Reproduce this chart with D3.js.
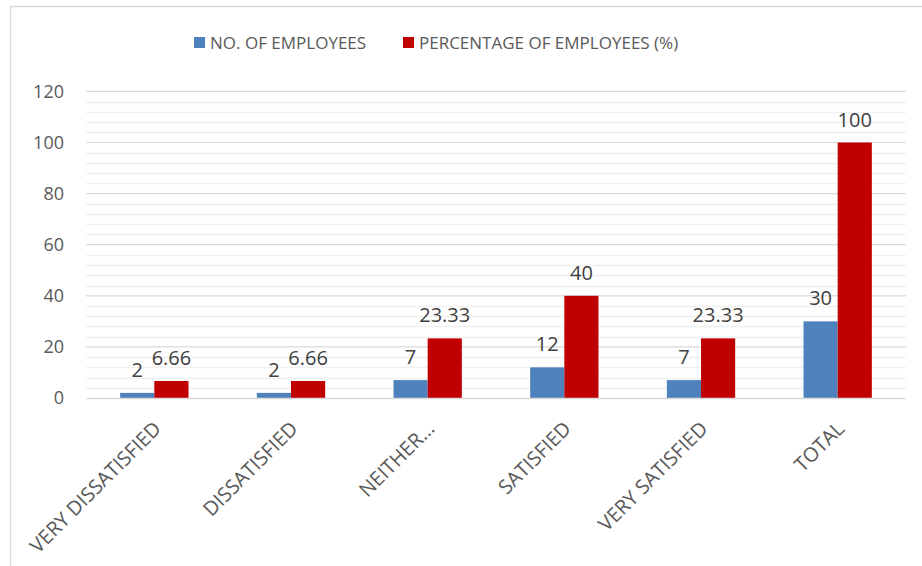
<!DOCTYPE html>
<html>
<head>
<meta charset="utf-8">
<script src="https://cdn.jsdelivr.net/npm/d3@7"></script>
<style>
  body { margin: 0; background: #fff; }
  svg { display: block; font-family: "Open Sans", "Noto Sans", sans-serif; }
</style>
</head>
<body>
<div id="chart"></div>
<script>
const categories = ["VERY DISSATISFIED", "DISSATISFIED", "NEITHER…", "SATISFIED", "VERY SATISFIED", "TOTAL"];
const employees = [2, 2, 7, 12, 7, 30];
const percentage = [6.66, 6.66, 23.33, 40, 23.33, 100];
const seriesNames = ["NO. OF EMPLOYEES", "PERCENTAGE OF EMPLOYEES (%)"];
const seriesColors = ["#4f81bd", "#c00000"];
const yTicks = [0, 20, 40, 60, 80, 100, 120];

const width = 922, height = 566;
const plot = { left: 86, right: 906, top: 91.4, bottom: 398 };

const svg = d3.select("#chart").append("svg")
  .attr("width", width).attr("height", height);

// chart frame (only top and left edges are visible in the crop)
svg.append("rect")
  .attr("x", 10.5).attr("y", 6.5)
  .attr("width", 940).attr("height", 600)
  .attr("fill", "none").attr("stroke", "#d9d9d9").attr("stroke-width", 1.5);

const x0 = d3.scaleBand().domain(categories).range([plot.left, plot.right]);
const x1 = d3.scaleBand().domain([0, 1]).range([x0.bandwidth() * 0.25, x0.bandwidth() * 0.75]);
const y = d3.scaleLinear().domain([0, 120]).range([plot.bottom, plot.top]);

// minor gridlines
const minor = d3.range(4, 120, 4).filter(v => v % 20 !== 0);
svg.append("g").selectAll("line").data(minor).join("line")
  .attr("x1", plot.left).attr("x2", plot.right)
  .attr("y1", d => Math.round(y(d)) + 0.5).attr("y2", d => Math.round(y(d)) + 0.5)
  .attr("stroke", "#f0f0f0").attr("stroke-width", 1.5);

// major gridlines
svg.append("g").selectAll("line").data(yTicks.filter(v => v > 0)).join("line")
  .attr("x1", plot.left).attr("x2", plot.right)
  .attr("y1", d => y(d)).attr("y2", d => y(d))
  .attr("stroke", "#d9d9d9").attr("stroke-width", 1.2);

// y tick labels
svg.append("g").selectAll("text").data(yTicks).join("text")
  .attr("x", 64).attr("y", d => y(d))
  .attr("dy", "0.36em")
  .attr("text-anchor", "end")
  .attr("fill", "#595959")
  .attr("font-size", 18)
  .text(d => d);

// bars
const rows = categories.map((c, i) => ({ c, vals: [employees[i], percentage[i]] }));
const groups = svg.append("g").selectAll("g").data(rows).join("g")
  .attr("transform", d => `translate(${x0(d.c)},0)`);

groups.selectAll("rect").data(d => d.vals.map((v, k) => ({ v, k }))).join("rect")
  .attr("x", d => x1(d.k))
  .attr("y", d => y(d.v))
  .attr("width", x1.bandwidth())
  .attr("height", d => y(0) - y(d.v))
  .attr("fill", d => seriesColors[d.k]);

groups.selectAll("text").data(d => d.vals.map((v, k) => ({ v, k }))).join("text")
  .attr("x", d => x1(d.k) + x1.bandwidth() / 2)
  .attr("y", d => y(d.v) - 16)
  .attr("text-anchor", "middle")
  .attr("fill", "#404040")
  .attr("font-size", 20)
  .text(d => d.v);

// x axis line
svg.append("line")
  .attr("x1", plot.left).attr("x2", plot.right)
  .attr("y1", plot.bottom + 0.5).attr("y2", plot.bottom + 0.5)
  .attr("stroke", "#d9d9d9").attr("stroke-width", 1.5);

// category labels
svg.append("g").selectAll("text").data(categories).join("text")
  .attr("transform", d => `translate(${x0(d) + x0.bandwidth() / 2 + 8},${plot.bottom + 32}) rotate(-45)`)
  .attr("text-anchor", "end")
  .attr("fill", "#595959")
  .attr("font-size", 20)
  .text(d => d);

// legend
const legendX = [194, 403];
const legend = svg.append("g").selectAll("g").data(seriesNames).join("g")
  .attr("transform", (d, i) => `translate(${legendX[i]},37)`);
legend.append("rect").attr("width", 11).attr("height", 11)
  .attr("fill", (d, i) => seriesColors[i]);
legend.append("text")
  .attr("x", 16).attr("y", 5.5).attr("dy", "0.36em")
  .attr("fill", "#595959").attr("font-size", 17)
  .text(d => d);
</script>
</body>
</html>
